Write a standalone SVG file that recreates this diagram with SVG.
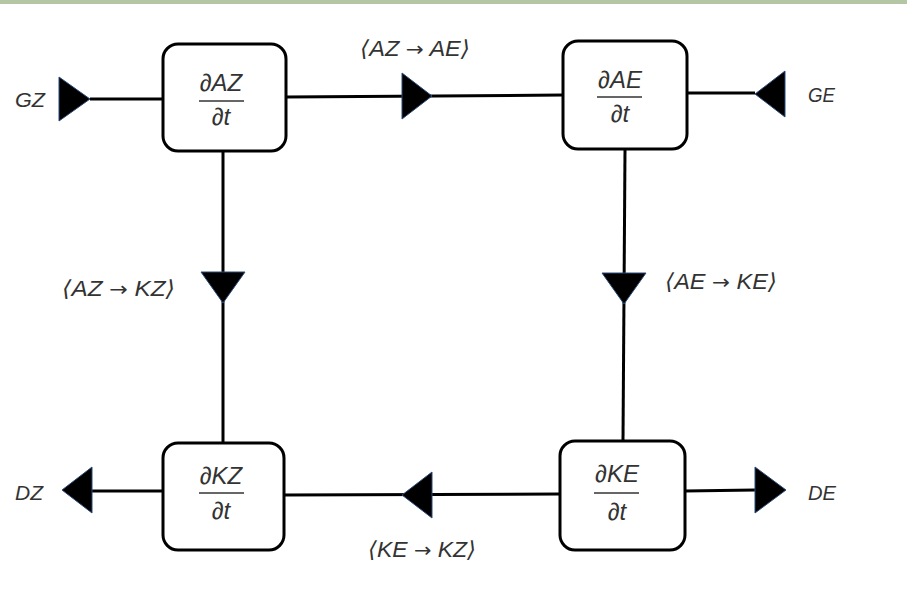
<svg xmlns="http://www.w3.org/2000/svg" width="907" height="610" viewBox="0 0 907 610">
  <style>
    .box { fill: #ffffff; stroke: #000000; stroke-width: 3; }
    .ln { stroke: #000000; stroke-width: 3; fill: none; }
    .tri { fill: #000000; stroke: #2b4a7a; stroke-width: 1; stroke-linejoin: miter; }
    .frac { font-family: "Liberation Sans", Arial, sans-serif; font-style: italic; font-size: 24px; fill: #333333; text-anchor: middle; }
    .bar { stroke: #333333; stroke-width: 1.5; }
    .lbl { font-family: "Liberation Sans", "DejaVu Sans", Arial, sans-serif; font-style: italic; font-size: 22px; fill: #333333; }
    .arr { font-family: "DejaVu Sans", sans-serif; font-style: normal; font-size: 20px; }
    .io { font-family: "Liberation Sans", Arial, sans-serif; font-style: italic; font-size: 20px; fill: #333333; }
  </style>
  <rect x="0" y="0" width="907" height="610" fill="#ffffff"/>
  <rect x="0" y="0" width="907" height="4" fill="#b4c6a3"/>

  <g id="connectors">
    <line class="ln" x1="90" y1="99" x2="163" y2="99"/>
    <polygon class="tri" points="59,77 90,99 59,121"/>
    <line class="ln" x1="286" y1="97" x2="563" y2="95"/>
    <polygon class="tri" points="402,73 432,96 402,119"/>
    <line class="ln" x1="687" y1="93" x2="755" y2="93"/>
    <polygon class="tri" points="785,71 755,94 785,117"/>
    <line class="ln" x1="223" y1="152" x2="223" y2="443"/>
    <polygon class="tri" points="201,272 245,272 223,303"/>
    <line class="ln" x1="625" y1="150" x2="623" y2="441"/>
    <polygon class="tri" points="602,273 646,273 624,304"/>
    <line class="ln" x1="92" y1="491" x2="163" y2="491"/>
    <polygon class="tri" points="92,467 62,490 92,513"/>
    <line class="ln" x1="284" y1="495" x2="560" y2="494"/>
    <polygon class="tri" points="432,472 402,495 432,518"/>
    <line class="ln" x1="685" y1="491" x2="755" y2="490"/>
    <polygon class="tri" points="755,467 786,490 755,513"/>
    <text class="lbl" x="360" y="56" textLength="110" lengthAdjust="spacingAndGlyphs">⟨AZ <tspan class="arr">→</tspan> AE⟩</text>
    <text class="lbl" x="62" y="296" textLength="113" lengthAdjust="spacingAndGlyphs">⟨AZ <tspan class="arr">→</tspan> KZ⟩</text>
    <text class="lbl" x="665" y="289" textLength="112" lengthAdjust="spacingAndGlyphs">⟨AE <tspan class="arr">→</tspan> KE⟩</text>
    <text class="lbl" x="368" y="557" textLength="108" lengthAdjust="spacingAndGlyphs">⟨KE <tspan class="arr">→</tspan> KZ⟩</text>
  </g>

  <g id="GZ"><text class="io" x="15" y="107" textLength="30" lengthAdjust="spacingAndGlyphs">GZ</text></g>
  <g id="GE"><text class="io" x="808" y="102" textLength="27" lengthAdjust="spacingAndGlyphs">GE</text></g>
  <g id="DZ"><text class="io" x="15" y="500" textLength="28" lengthAdjust="spacingAndGlyphs">DZ</text></g>
  <g id="DE"><text class="io" x="808" y="500" textLength="28" lengthAdjust="spacingAndGlyphs">DE</text></g>

  <g id="node-AZ">
    <rect class="box" x="163" y="44" width="123" height="107" rx="15"/>
    <text class="frac" x="221" y="91">∂AZ</text>
    <line class="bar" x1="199" y1="101" x2="244" y2="101"/>
    <text class="frac" x="221" y="125">∂t</text>
  </g>
  <g id="node-AE">
    <rect class="box" x="563" y="41" width="124" height="108" rx="15"/>
    <text class="frac" x="620" y="88">∂AE</text>
    <line class="bar" x1="597" y1="97" x2="642" y2="97"/>
    <text class="frac" x="620" y="122">∂t</text>
  </g>
  <g id="node-KZ">
    <rect class="box" x="163" y="443" width="121" height="107" rx="15"/>
    <text class="frac" x="221" y="484">∂KZ</text>
    <line class="bar" x1="199" y1="493" x2="244" y2="493"/>
    <text class="frac" x="221" y="519">∂t</text>
  </g>
  <g id="node-KE">
    <rect class="box" x="560" y="441" width="125" height="109" rx="15"/>
    <text class="frac" x="617" y="482">∂KE</text>
    <line class="bar" x1="594" y1="493" x2="639" y2="493"/>
    <text class="frac" x="617" y="520">∂t</text>
  </g>
</svg>
